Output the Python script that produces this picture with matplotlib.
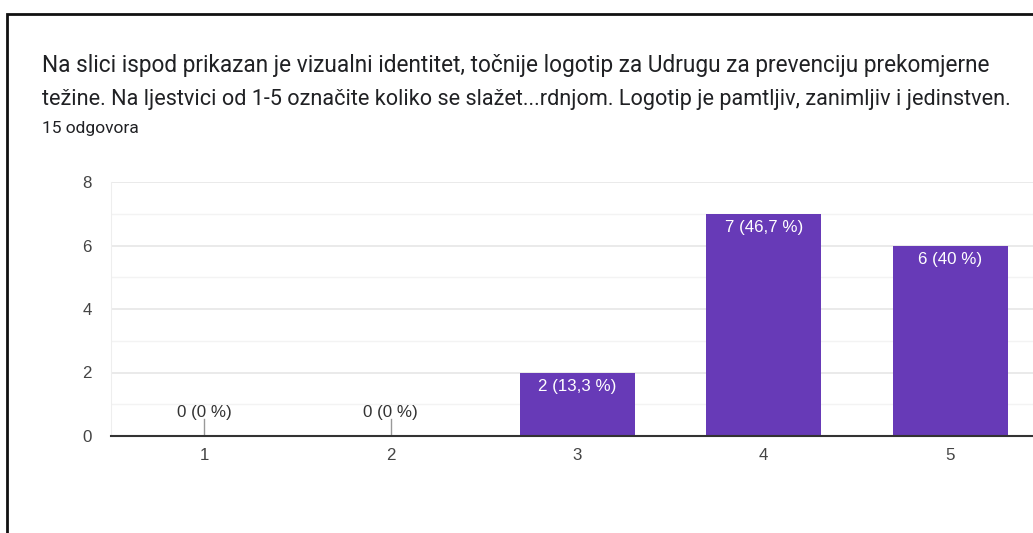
import matplotlib.pyplot as plt
from matplotlib.patches import Rectangle
from matplotlib.ticker import MultipleLocator

question = ["Na slici ispod prikazan je vizualni identitet, točnije logotip za Udrugu za prevenciju prekomjerne",
            "težine. Na ljestvici od 1-5 označite koliko se slažet...rdnjom. Logotip je pamtljiv, zanimljiv i jedinstven."]
responses = "15 odgovora"
ratings = [1, 2, 3, 4, 5]
counts = [0, 0, 2, 7, 6]
shares = ["0", "0", "13,3", "46,7", "40"]

BAR = "#673ab7"
W, H = 1033, 533
FS = 12.2

fig = plt.figure(figsize=(W / 100, H / 100), dpi=100)
fig.patch.set_facecolor("white")

# card border, cut off on the right and bottom
fig.patches.append(Rectangle((7 / W, -0.1), 1.2, (H - 14) / H + 0.1, transform=fig.transFigure,
                             fill=False, edgecolor="#111111", linewidth=2))

for i, line in enumerate(question):
    t = fig.text(42 / W, 1 - (66 + 34 * i) / H, line, fontsize=16.3, family="Roboto", color="#202124",
                 va="center", ha="left")
fig.canvas.draw()
# squeeze the second line a little so it ends inside the card
r = fig.canvas.get_renderer()
bb = t.get_window_extent(r)
if bb.x1 > 1010:
    t.set_fontsize(16.3 * (1010 - 42) / (bb.x1 - 42))

fig.text(42 / W, 1 - 129 / H, responses, fontsize=12.5, family="Roboto", color="#202124",
         va="center", ha="left")

ax = fig.add_axes([111 / W, (H - 436) / H, 932.5 / W, 254 / H])
ax.set_xlim(0.5, 5.5)
ax.set_ylim(0, 8)

ax.bar(ratings, counts, width=0.614, color=BAR, zorder=3)
for x, c, s in zip(ratings, counts, shares):
    label = f"{c} ({s} %)"
    if c > 0:
        ax.annotate(label, (x, c), xytext=(0, -14), textcoords="offset pixels",
                    ha="center", va="center", color="white", fontsize=FS, family="Liberation Sans",
                    zorder=4)
    else:
        ax.plot([x, x], [0, 0.52], color="#999999", linewidth=1, zorder=3)
        ax.annotate(label, (x, 0), xytext=(0, 24), textcoords="offset pixels",
                    ha="center", va="center", color="#333333", fontsize=FS, family="Liberation Sans",
                    zorder=4)

ax.yaxis.set_major_locator(MultipleLocator(2))
ax.yaxis.set_minor_locator(MultipleLocator(1))
ax.grid(axis="y", which="major", color="#e6e6e6", linewidth=1.2, zorder=0)
ax.grid(axis="y", which="minor", color="#f3f3f3", linewidth=1, zorder=0)
ax.set_xticks(ratings)
ax.set_xticklabels([str(r) for r in ratings])

for side in ["top", "right"]:
    ax.spines[side].set_visible(False)
ax.spines["left"].set_color("#eeeeee")
ax.spines["bottom"].set_color("#333333")
ax.spines["bottom"].set_linewidth(1.5)
ax.spines["bottom"].set_zorder(5)
ax.tick_params(axis="both", which="both", length=0, labelsize=FS, labelcolor="#444444")
ax.tick_params(axis="x", pad=9)
ax.tick_params(axis="y", pad=14)
for lbl in ax.get_xticklabels() + ax.get_yticklabels():
    lbl.set_family("Liberation Sans")

fig.savefig("out.png", dpi=100)
